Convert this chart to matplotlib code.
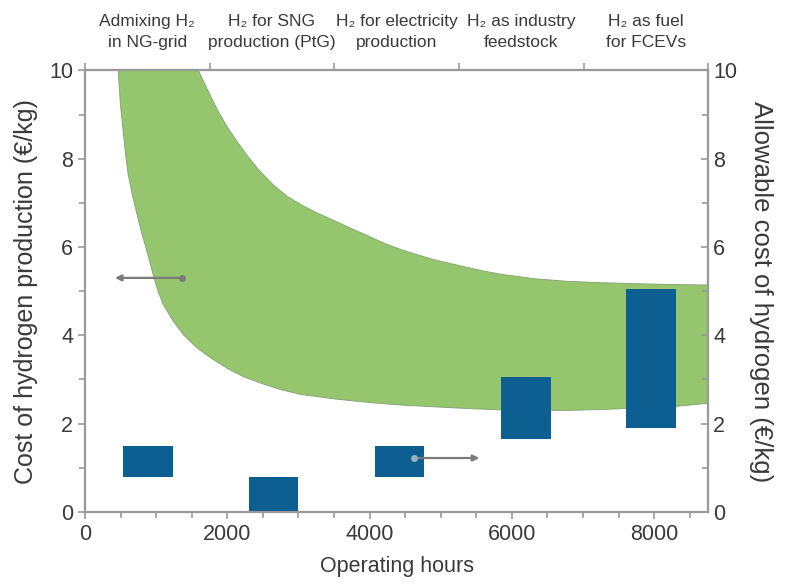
import numpy as np
import matplotlib
matplotlib.use("Agg")
import matplotlib.pyplot as plt

plt.rcParams['font.family'] = ['Liberation Sans', 'DejaVu Sans']

# green band: production cost range
lower_hours = [466, 500, 537, 570, 607, 670, 733, 800, 872, 962, 1030, 1102, 1240, 1385,
               1570, 1765, 2000, 2230, 2500, 2750, 3035, 3500, 3980, 4445, 4910, 5390,
               5855, 6320, 6800, 7270, 7730, 8300, 8760]
lower_cost = [10.0, 9.2, 8.62, 8.1, 7.64, 7.15, 6.73, 6.3, 5.9, 5.35, 4.98, 4.69, 4.32, 4.01,
              3.72, 3.49, 3.25, 3.06, 2.9, 2.77, 2.66, 2.56, 2.48, 2.42, 2.38, 2.34,
              2.31, 2.30, 2.30, 2.32, 2.35, 2.39, 2.46]
upper_hours = [1595, 1680, 1765, 1880, 2000, 2140, 2285, 2450, 2650, 2840, 3035, 3250, 3500,
               3740, 3980, 4210, 4445, 4680, 4910, 5150, 5390, 5620, 5855, 6320, 6800, 7270,
               7730, 8210, 8760]
upper_cost = [10.0, 9.7, 9.42, 9.05, 8.72, 8.38, 8.06, 7.73, 7.4, 7.15, 6.96, 6.78, 6.6,
              6.42, 6.25, 6.08, 5.94, 5.82, 5.71, 5.62, 5.53, 5.45, 5.38, 5.28, 5.22, 5.19,
              5.17, 5.15, 5.14]

# blue boxes: allowable cost per application
app_hours = [880, 2650, 4420, 6200, 7960]
allow_low = [0.8, 0.0, 0.8, 1.65, 1.9]
allow_high = [1.5, 0.8, 1.5, 3.05, 5.05]
box_width = 700

top_labels = ["Admixing H\u2082\nin NG-grid", "H\u2082 for SNG\nproduction (PtG)",
              "H\u2082 for electricity\nproduction", "H\u2082 as industry\nfeedstock",
              "H\u2082 as fuel\nfor FCEVs"]

green = "#95c66d"
blue = "#0d5e91"
grey = "#9a9a9a"
txt = "#3a3a3a"

fig = plt.figure(figsize=(7.87, 5.87), dpi=100)
ax = fig.add_axes([0.108, 0.128, 0.792, 0.752])

poly_x = lower_hours + upper_hours[::-1]
poly_y = lower_cost + upper_cost[::-1]
ax.fill(poly_x, poly_y, facecolor=green, edgecolor="#88a878", lw=0.7, zorder=1)

ax.set_xlim(0, 8760)
ax.set_ylim(0, 10)
ax.set_xticks(range(0, 8001, 2000))
ax.set_xticks(range(0, 8760, 500), minor=True)
ax.set_yticks(range(0, 11, 2))
ax.set_yticks(range(0, 11, 1), minor=True)
ax.set_xlabel("Operating hours", fontsize=15.5, color=txt, labelpad=8)
ax.set_ylabel("Cost of hydrogen production (\u20ac/kg)", fontsize=18, color=txt, labelpad=8)

ax2 = ax.twinx()
ax2.set_ylim(0, 10)
ax2.set_yticks(range(0, 11, 2))
ax2.set_yticks(range(0, 11, 1), minor=True)
heights = [h - l for h, l in zip(allow_high, allow_low)]
ax2.bar(app_hours, heights, bottom=allow_low, width=box_width, color=blue, zorder=3)
ax2.set_ylabel("Allowable cost of hydrogen (\u20ac/kg)", fontsize=18.5, color=txt,
               rotation=270, labelpad=26)

# arrows pointing to the relevant axis
ax.annotate("", xy=(383, 5.3), xytext=(1360, 5.3),
            arrowprops=dict(arrowstyle="-|>", color="#7a7a7a", lw=1.6, mutation_scale=9))
ax.plot([1360], [5.3], "o", color="#7a7a7a", ms=4)
ax2.annotate("", xy=(5580, 1.22), xytext=(4630, 1.22),
             arrowprops=dict(arrowstyle="-|>", color="#7a7a7a", lw=1.6, mutation_scale=9), zorder=5)
ax2.plot([4630], [1.22], "o", color="#9ab0c0", ms=4, zorder=5)

# top axis with application categories
ax3 = ax.twiny()
ax3.set_xlim(0, 5)
ax3.set_xticks(range(6))
ax3.set_xticklabels([])
ax3.set_xticks([i + 0.5 for i in range(5)], minor=True)
ax3.set_xticklabels(top_labels, minor=True, fontsize=12.5, color=txt, linespacing=1.45)
ax3.tick_params(axis="x", which="minor", length=0, pad=15)
ax3.tick_params(axis="x", which="major", length=5, width=1.2, color=grey, direction="out")

for a in (ax, ax2, ax3):
    for s in a.spines.values():
        s.set_color(grey)
        s.set_linewidth(1.5)

ax.tick_params(which="both", colors=grey, labelcolor=txt, labelsize=15.5, width=1.2)
ax.tick_params(which="major", length=5)
ax.tick_params(which="minor", length=4)
ax2.tick_params(which="both", direction="in", colors=grey, labelcolor=txt, labelsize=15.5, width=1.2)
ax2.tick_params(which="major", length=5)
ax2.tick_params(which="minor", length=4)

fig.savefig("out.png", dpi=100)
